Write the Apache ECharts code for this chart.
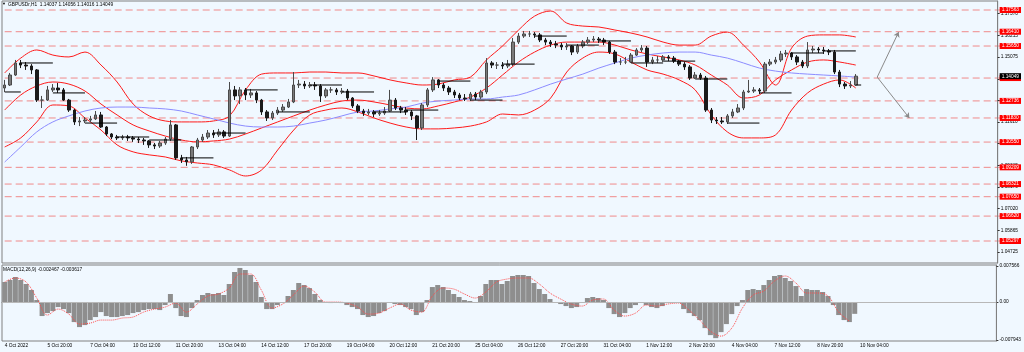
<!DOCTYPE html>
<html>
<head>
<meta charset="utf-8">
<script src="https://cdn.jsdelivr.net/npm/echarts@6/dist/echarts.min.js"></script>
<style>
  html, body { margin: 0; padding: 0; background: #f0f8ff; }
  #chart { width: 1024px; height: 352px; }
</style>
</head>
<body>
<div id="chart"></div>
<script>
// GBPUSDr H1, 4 Oct - 10 Nov 2022 (one candle here = 4 hours)
var firstOpen = 1.1342;
var closes = [
  1.1358, 1.1411, 1.1475, 1.1464, 1.1459, 1.1438, 1.1278, 1.1278, 1.1332, 1.1342,
  1.1332, 1.1278, 1.1225, 1.1162, 1.1167, 1.1172, 1.1178, 1.1199, 1.1135, 1.1098,
  1.1082, 1.1077, 1.1082, 1.1077, 1.1071, 1.1066, 1.1061, 1.1040, 1.1034, 1.1050,
  1.1071, 1.1146, 1.0971, 1.0960, 1.0950, 1.1029, 1.1066, 1.1082, 1.1103, 1.1093,
  1.1109, 1.1087, 1.1332, 1.1300, 1.1332, 1.1305, 1.1316, 1.1278, 1.1215, 1.1183,
  1.1209, 1.1225, 1.1241, 1.1268, 1.1358, 1.1363, 1.1353, 1.1358, 1.1353, 1.1300,
  1.1332, 1.1332, 1.1321, 1.1326, 1.1289, 1.1247, 1.1220, 1.1209, 1.1215, 1.1204,
  1.1209, 1.1220, 1.1278, 1.1236, 1.1225, 1.1215, 1.1194, 1.1130, 1.1252, 1.1332,
  1.1385, 1.1358, 1.1342, 1.1321, 1.1305, 1.1289, 1.1284, 1.1310, 1.1294, 1.1321,
  1.1475, 1.1464, 1.1464, 1.1459, 1.1469, 1.1586, 1.1618, 1.1629, 1.1629, 1.1624,
  1.1597, 1.1586, 1.1576, 1.1570, 1.1560, 1.1565, 1.1533, 1.1565, 1.1586, 1.1597,
  1.1602, 1.1597, 1.1586, 1.1533, 1.1480, 1.1480, 1.1480, 1.1517, 1.1544, 1.1554,
  1.1480, 1.1491, 1.1491, 1.1507, 1.1501, 1.1485, 1.1469, 1.1454, 1.1395, 1.1411,
  1.1395, 1.1225, 1.1172, 1.1167, 1.1162, 1.1194, 1.1215, 1.1236, 1.1321, 1.1326,
  1.1332, 1.1326, 1.1469, 1.1480, 1.1491, 1.1523, 1.1528, 1.1507, 1.1480, 1.1459,
  1.1544, 1.1549, 1.1544, 1.1539, 1.1533, 1.1427, 1.1363, 1.1353, 1.1358, 1.1405
];
var highs = [
  1.1385, 1.1422, 1.1491, 1.1491, 1.1480, 1.1469, 1.1443, 1.1300, 1.1353, 1.1363,
  1.1369, 1.1342, 1.1284, 1.1231, 1.1188, 1.1188, 1.1194, 1.1220, 1.1215, 1.1140,
  1.1103, 1.1093, 1.1093, 1.1093, 1.1087, 1.1082, 1.1077, 1.1066, 1.1050, 1.1061,
  1.1082, 1.1172, 1.1151, 1.0987, 1.0976, 1.1034, 1.1077, 1.1098, 1.1119, 1.1119,
  1.1125, 1.1119, 1.1374, 1.1353, 1.1347, 1.1342, 1.1337, 1.1326, 1.1284, 1.1225,
  1.1220, 1.1241, 1.1257, 1.1284, 1.1427, 1.1385, 1.1379, 1.1374, 1.1374, 1.1363,
  1.1342, 1.1347, 1.1342, 1.1342, 1.1337, 1.1294, 1.1257, 1.1231, 1.1231, 1.1225,
  1.1225, 1.1241, 1.1332, 1.1289, 1.1247, 1.1241, 1.1225, 1.1199, 1.1262, 1.1342,
  1.1400, 1.1390, 1.1369, 1.1353, 1.1332, 1.1316, 1.1310, 1.1321, 1.1321, 1.1332,
  1.1501, 1.1485, 1.1480, 1.1480, 1.1491, 1.1608, 1.1634, 1.1645, 1.1645, 1.1639,
  1.1634, 1.1608, 1.1597, 1.1592, 1.1581, 1.1581, 1.1570, 1.1576, 1.1597, 1.1613,
  1.1618, 1.1613, 1.1608, 1.1592, 1.1544, 1.1501, 1.1507, 1.1528, 1.1554, 1.1570,
  1.1565, 1.1507, 1.1512, 1.1517, 1.1517, 1.1512, 1.1491, 1.1480, 1.1464, 1.1427,
  1.1422, 1.1406, 1.1236, 1.1188, 1.1188, 1.1204, 1.1231, 1.1257, 1.1332, 1.1385,
  1.1347, 1.1342, 1.1480, 1.1496, 1.1507, 1.1539, 1.1544, 1.1533, 1.1517, 1.1491,
  1.1586, 1.1565, 1.1560, 1.1560, 1.1549, 1.1544, 1.1438, 1.1374, 1.1379, 1.1416
];
var lows = [
  1.1321, 1.1353, 1.1406, 1.1448, 1.1438, 1.1416, 1.1268, 1.1236, 1.1273, 1.1321,
  1.1316, 1.1273, 1.1215, 1.1146, 1.1140, 1.1156, 1.1162, 1.1172, 1.1130, 1.1087,
  1.1071, 1.1066, 1.1066, 1.1061, 1.1056, 1.1050, 1.1040, 1.1024, 1.1018, 1.1024,
  1.1040, 1.1061, 1.0960, 1.0944, 1.0929, 1.0939, 1.1018, 1.1056, 1.1071, 1.1077,
  1.1082, 1.1077, 1.1082, 1.1278, 1.1257, 1.1278, 1.1289, 1.1262, 1.1199, 1.1167,
  1.1172, 1.1199, 1.1215, 1.1236, 1.1262, 1.1342, 1.1337, 1.1342, 1.1332, 1.1268,
  1.1289, 1.1316, 1.1305, 1.1310, 1.1278, 1.1236, 1.1209, 1.1194, 1.1199, 1.1188,
  1.1194, 1.1199, 1.1215, 1.1225, 1.1209, 1.1199, 1.1172, 1.1066, 1.1119, 1.1241,
  1.1321, 1.1342, 1.1326, 1.1305, 1.1289, 1.1278, 1.1273, 1.1273, 1.1278, 1.1284,
  1.1310, 1.1448, 1.1443, 1.1443, 1.1448, 1.1459, 1.1576, 1.1608, 1.1613, 1.1608,
  1.1586, 1.1570, 1.1560, 1.1554, 1.1544, 1.1544, 1.1517, 1.1523, 1.1554, 1.1576,
  1.1586, 1.1581, 1.1570, 1.1523, 1.1469, 1.1464, 1.1469, 1.1475, 1.1512, 1.1533,
  1.1454, 1.1469, 1.1475, 1.1480, 1.1485, 1.1475, 1.1459, 1.1438, 1.1385, 1.1390,
  1.1385, 1.1215, 1.1156, 1.1151, 1.1151, 1.1151, 1.1183, 1.1209, 1.1225, 1.1316,
  1.1316, 1.1310, 1.1316, 1.1459, 1.1469, 1.1480, 1.1507, 1.1491, 1.1464, 1.1448,
  1.1448, 1.1528, 1.1528, 1.1523, 1.1517, 1.1416, 1.1347, 1.1337, 1.1342, 1.1353
];
// daily open level, one per trading day (4 Oct .. 10 Nov)
var dailyOpen = [
  1.1321, 1.1475, 1.1316, 1.1156, 1.1082, 1.1066, 1.0971, 1.1103, 1.1332, 1.1215,
  1.1358, 1.1321, 1.1215, 1.1225, 1.1379, 1.1278, 1.1469, 1.1618, 1.1570, 1.1592,
  1.1475, 1.1485, 1.1390, 1.1156, 1.1316, 1.1528, 1.1539, 1.1358
];

// indicator lines, one sample every 3 candles
var bandStep = 3;
var bbUpper = [
  1.1422, 1.1501, 1.1544, 1.1517, 1.1507, 1.1533, 1.1464, 1.1374, 1.1257, 1.1194,
  1.1167, 1.1162, 1.1162, 1.1167, 1.1194, 1.1332, 1.1416, 1.1422, 1.1422, 1.1427,
  1.1427, 1.1422, 1.1422, 1.1406, 1.1385, 1.1369, 1.1358, 1.1363, 1.1385, 1.1400,
  1.1491, 1.1565, 1.1650, 1.1724, 1.1751, 1.1687, 1.1671, 1.1666, 1.1650, 1.1634,
  1.1613, 1.1586, 1.1570, 1.1570, 1.1618, 1.1639, 1.1570, 1.1480, 1.1358, 1.1554,
  1.1618, 1.1624, 1.1624, 1.1613
];
var bbMiddle = [
  1.1225, 1.1305, 1.1353, 1.1374, 1.1363, 1.1326, 1.1257, 1.1199, 1.1146, 1.1114,
  1.1087, 1.1066, 1.1056, 1.1061, 1.1071, 1.1098, 1.1130, 1.1162, 1.1194, 1.1225,
  1.1252, 1.1273, 1.1278, 1.1268, 1.1252, 1.1236, 1.1231, 1.1247, 1.1268, 1.1294,
  1.1342, 1.1411, 1.1480, 1.1533, 1.1570, 1.1586, 1.1586, 1.1586, 1.1570, 1.1544,
  1.1523, 1.1507, 1.1491, 1.1464, 1.1411, 1.1358, 1.1289, 1.1305, 1.1385, 1.1438,
  1.1480, 1.1491, 1.1480, 1.1464
];
var bbLower = [
  1.1029, 1.1077, 1.1162, 1.1252, 1.1247, 1.1183, 1.1119, 1.1040, 1.1003, 1.0987,
  1.0976, 1.0955, 1.0944, 1.0934, 1.0907, 1.0875, 1.0907, 1.1013, 1.1119, 1.1199,
  1.1225, 1.1236, 1.1215, 1.1183, 1.1156, 1.1135, 1.1125, 1.1125, 1.1130, 1.1140,
  1.1162, 1.1204, 1.1199, 1.1225, 1.1289, 1.1427, 1.1501, 1.1533, 1.1523, 1.1480,
  1.1438, 1.1416, 1.1385, 1.1332, 1.1199, 1.1109, 1.1077, 1.1077, 1.1093, 1.1225,
  1.1316, 1.1363, 1.1385, 1.1342
];
var maLine = [
  1.0949, 1.1029, 1.1109, 1.1162, 1.1194, 1.1220, 1.1236, 1.1241, 1.1241, 1.1236,
  1.1231, 1.1220, 1.1199, 1.1178, 1.1156, 1.1140, 1.1135, 1.1135, 1.1140, 1.1156,
  1.1172, 1.1194, 1.1215, 1.1220, 1.1231, 1.1241, 1.1262, 1.1273, 1.1278, 1.1284,
  1.1284, 1.1294, 1.1305, 1.1332, 1.1363, 1.1390, 1.1416, 1.1448, 1.1475, 1.1501,
  1.1517, 1.1528, 1.1533, 1.1533, 1.1517, 1.1501, 1.1475, 1.1448, 1.1432, 1.1422,
  1.1416, 1.1411, 1.1406, 1.1400
];

// MACD(12,26,9): main per candle, signal every 2 candles
var macdMain = [
  0.00419, 0.00461, 0.00524, 0.00461, 0.00377, 0.00252, 0.00042, -0.00293, -0.00231, -0.00189,
  -0.00105, -0.00147, -0.00231, -0.00419, -0.00524, -0.00482, -0.00377, -0.00314, -0.00210, -0.00293,
  -0.00314, -0.00314, -0.00293, -0.00272, -0.00231, -0.00210, -0.00168, -0.00147, -0.00147, -0.00168,
  -0.00063, 0.00168, -0.00126, -0.00293, -0.00314, -0.00126, 0.00042, 0.00147, 0.00189, 0.00168,
  0.00189, 0.00147, 0.00377, 0.00629, 0.00713, 0.00671, 0.00566, 0.00419, 0.00105, -0.00147,
  -0.00147, -0.00063, 0, 0.00126, 0.00252, 0.00398, 0.00356, 0.00293, 0.00168, 0.00042,
  0, -0.00021, 0, -0.00021, -0.00063, -0.00105, -0.00147, -0.00272, -0.00314, -0.00293,
  -0.00231, -0.00189, 0, -0.00042, -0.00063, -0.00105, -0.00147, -0.00272, -0.00210, 0.00042,
  0.00314, 0.00356, 0.00314, 0.00252, 0.00168, 0.00105, 0.00042, 0.00021, 0, 0.00126,
  0.00377, 0.00461, 0.00461, 0.00377, 0.00440, 0.00545, 0.00566, 0.00566, 0.00545, 0.00398,
  0.00272, 0.00168, 0.00063, 0, -0.00042, -0.00084, -0.00126, -0.00105, 0, 0.00084,
  0.00105, 0.00084, 0.00042, -0.00126, -0.00252, -0.00314, -0.00231, -0.00126, -0.00063, 0,
  -0.00063, -0.00105, -0.00126, -0.00084, -0.00021, 0, 0, -0.00147, -0.00231, -0.00293,
  -0.00377, -0.00545, -0.00692, -0.00755, -0.00629, -0.00461, -0.00252, -0.00084, 0.00042, 0.00252,
  0.00272, 0.00252, 0.00356, 0.00461, 0.00545, 0.00566, 0.00503, 0.00440, 0.00335, 0.00126,
  0.00272, 0.00252, 0.00252, 0.00210, 0.00126, -0.00063, -0.00272, -0.00377, -0.00419, -0.00247
];
var signalStep = 2;
var macdSignal = [
  0.00419, 0.00503, 0.00419, 0.00084, -0.00272, -0.00147, -0.00252, -0.00461, -0.00440, -0.00377,
  -0.00377, -0.00335, -0.00314, -0.00210, -0.00147, -0.00105, -0.00021, -0.00210, -0.00042, 0.00126,
  0.00168, 0.00293, 0.00587, 0.00587, 0.00252, -0.00126, -0.00042, 0.00147, 0.00335, 0.00210,
  0, 0, -0.00021, -0.00105, -0.00252, -0.00231, -0.00126, -0.00042, -0.00168, -0.00210,
  0.00126, 0.00293, 0.00272, 0.00168, 0.00084, 0.00210, 0.00419, 0.00482, 0.00503, 0.00503,
  0.00377, 0.00189, 0.00063, -0.00042, -0.00084, 0.00042, 0.00063, -0.00168, -0.00293, -0.00231,
  -0.00063, -0.00084, -0.00042, -0.00021, -0.00168, -0.00377, -0.00608, -0.00713, -0.00545, -0.00126,
  0.00147, 0.00231, 0.00440, 0.00545, 0.00398, 0.00189, 0.00189, 0.00126, -0.00210, -0.00398
];

// horizontal levels drawn on the chart
var levels = [1.17563, 1.16410, 1.15650, 1.13950, 1.12736, 1.11830, 1.10550, 1.09209, 1.08321, 1.07650, 1.06620, 1.05297];
var lastPrice = 1.14049;
var priceTicks = [1.04725, 1.05865, 1.07020, 1.08170, 1.09315, 1.10465, 1.11610, 1.12760, 1.13910, 1.15075, 1.16215, 1.17370];
var macdTicks = [-0.007943, 0, 0.007566];
var macdTickLabels = ['-0.007943', '0.00', '0.007566'];
var xTickLabels = ['4 Oct 2022', '5 Oct 20:00', '7 Oct 04:00', '10 Oct 12:00', '11 Oct 20:00', '13 Oct 04:00',
  '14 Oct 12:00', '17 Oct 20:00', '19 Oct 04:00', '20 Oct 12:00', '21 Oct 20:00', '25 Oct 04:00', '26 Oct 12:00',
  '27 Oct 20:00', '31 Oct 04:00', '1 Nov 12:00', '2 Nov 20:00', '4 Nov 04:00', '7 Nov 12:00', '8 Nov 20:00', '10 Nov 04:00'];
// projection arrows [candle index, price]
var projStart = [163, 1.1400];
var projUp = [166.5, 1.1639];
var projDown = [169, 1.1183];

var slotCount = 186;
var priceMin = 1.04129, priceMax = 1.18041;
var macdMin = -0.00815, macdMax = 0.00775;

var slots = [];
for (var i = 0; i < slotCount; i++) slots.push(String(i));

var candles = closes.map(function (c, i) {
  var o = i === 0 ? firstOpen : closes[i - 1];
  return [o, c, Math.min(lows[i], o, c), Math.max(highs[i], o, c)];
});

function sampled(arr, step) {
  return arr.map(function (v, k) { return [k * step, v]; });
}

var font = 'Liberation Sans';
var fs = 4.8;

var chart = echarts.init(document.getElementById('chart'));

var bandLine = function (name, arr, color) {
  return {
    name: name, type: 'line', xAxisIndex: 0, yAxisIndex: 0,
    data: sampled(arr, bandStep), smooth: 0.35, symbol: 'none', silent: true,
    lineStyle: { color: color, width: 1 }, z: 3
  };
};

var option = {
  animation: false,
  backgroundColor: '#f0f8ff',
  textStyle: { fontFamily: font },
  grid: [
    { left: 2, right: 25, top: 1, height: 262, show: true, borderColor: '#808080', borderWidth: 1 },
    { left: 2, right: 25, top: 265, height: 76, show: true, borderColor: '#808080', borderWidth: 1 }
  ],
  xAxis: [
    {
      type: 'category', gridIndex: 0, data: slots, boundaryGap: true,
      axisLine: { show: false }, axisTick: { show: false }, axisLabel: { show: false }
    },
    {
      type: 'category', gridIndex: 1, data: slots, boundaryGap: true,
      axisLine: { lineStyle: { color: '#808080' } },
      axisTick: { interval: 7, length: 2, lineStyle: { color: '#333' } },
      axisLabel: {
        interval: 7, align: 'left', margin: 2, fontSize: fs, color: '#000', fontFamily: font,
        formatter: function (v, idx) { return xTickLabels[idx / 8] || ''; }
      }
    }
  ],
  yAxis: [
    {
      type: 'value', gridIndex: 0, position: 'right', min: priceMin, max: priceMax, z: 5,
      axisLine: { show: true, lineStyle: { color: '#808080' } },
      axisTick: { show: true, length: 2, customValues: priceTicks, lineStyle: { color: '#333' } },
      axisLabel: {
        customValues: priceTicks, margin: 3, fontSize: fs, color: '#000', fontFamily: font,
        formatter: function (v) { return v.toFixed(5); }
      },
      splitLine: { show: false }
    },
    {
      type: 'value', gridIndex: 0, position: 'right', min: priceMin, max: priceMax, z: 6,
      axisLine: { show: false }, axisTick: { show: false }, splitLine: { show: false },
      axisLabel: {
        customValues: levels, margin: 2, fontSize: fs, color: '#ffffff', fontFamily: font,
        backgroundColor: '#ff0000', padding: [1, 2, 0, 2],
        formatter: function (v) { return v.toFixed(5); }
      }
    },
    {
      type: 'value', gridIndex: 0, position: 'right', min: priceMin, max: priceMax, z: 7,
      axisLine: { show: false }, axisTick: { show: false }, splitLine: { show: false },
      axisLabel: {
        customValues: [lastPrice], margin: 2, fontSize: fs, color: '#ffffff', fontFamily: font,
        backgroundColor: '#000000', padding: [1, 2, 0, 2],
        formatter: function (v) { return v.toFixed(5); }
      }
    },
    {
      type: 'value', gridIndex: 1, position: 'right', min: macdMin, max: macdMax,
      axisLine: { show: true, lineStyle: { color: '#808080' } },
      axisTick: { show: true, length: 2, customValues: macdTicks, lineStyle: { color: '#333' } },
      axisLabel: {
        customValues: macdTicks, margin: 3, fontSize: fs, color: '#000', fontFamily: font,
        formatter: function (v) {
          for (var k = 0; k < macdTicks.length; k++) {
            if (Math.abs(v - macdTicks[k]) < 1e-9) return macdTickLabels[k];
          }
          return '';
        }
      },
      splitLine: { show: false }
    }
  ],
  series: [
    {
      // dashed level lines across the whole price panel
      name: 'levels', type: 'custom', xAxisIndex: 0, yAxisIndex: 0, silent: true, z: 1,
      data: levels.map(function (v) { return [0, v]; }),
      renderItem: function (params, api) {
        var v = api.value(1);
        var p1 = api.coord([-0.5, v]);
        var p2 = api.coord([slotCount - 0.5, v]);
        return {
          type: 'line',
          shape: { x1: p1[0], y1: p1[1], x2: p2[0], y2: p2[1] },
          style: { stroke: '#f08a8a', lineWidth: 1, lineDash: [7, 4] }
        };
      }
    },
    {
      name: 'GBPUSDr', type: 'candlestick', xAxisIndex: 0, yAxisIndex: 0,
      data: candles, barWidth: 3, z: 4,
      itemStyle: { color: '#7a7a7a', color0: '#1a1a1a', borderColor: '#4a4a4a', borderColor0: '#1a1a1a', borderWidth: 1 }
    },
    {
      name: 'dailyOpen', type: 'custom', xAxisIndex: 0, yAxisIndex: 0, silent: true, z: 5,
      data: dailyOpen.map(function (v, d) { return [d, v]; }),
      renderItem: function (params, api) {
        var d = api.value(0), lvl = api.value(1);
        var s = Math.max(d * 6 - 3, 0);
        var e = Math.min(d * 6 + 3, closes.length);
        var p1 = api.coord([s - 0.5, lvl]);
        var p2 = api.coord([e - 0.5, lvl]);
        return {
          type: 'line',
          shape: { x1: p1[0], y1: p1[1], x2: p2[0], y2: p2[1] },
          style: { stroke: '#000000', lineWidth: 1 }
        };
      }
    },
    bandLine('BB upper', bbUpper, '#ff1a1a'),
    bandLine('BB middle', bbMiddle, '#ff1a1a'),
    bandLine('BB lower', bbLower, '#ff1a1a'),
    {
      name: 'MA', type: 'line', xAxisIndex: 0, yAxisIndex: 0,
      data: sampled(maLine, bandStep), smooth: 0.35, symbol: 'none', silent: true,
      lineStyle: { color: '#8c8cff', width: 1 }, z: 3,
      markLine: {
        silent: true, symbol: ['none', 'arrow'], symbolSize: 5, label: { show: false },
        lineStyle: { color: '#8a8a8a', type: 'solid', width: 1 },
        data: [
          [{ coord: projStart }, { coord: projUp }],
          [{ coord: projStart }, { coord: projDown }]
        ]
      }
    },
    {
      name: 'MACD', type: 'bar', xAxisIndex: 1, yAxisIndex: 3,
      data: macdMain, barWidth: 5, silent: true,
      itemStyle: { color: '#8e8e8e' },
      markLine: {
        silent: true, symbol: 'none', label: { show: false },
        lineStyle: { color: '#b8b8b8', type: 'solid', width: 1 },
        data: [{ yAxis: 0 }]
      }
    },
    {
      name: 'Signal', type: 'line', xAxisIndex: 1, yAxisIndex: 3,
      data: sampled(macdSignal, signalStep), smooth: 0.35, symbol: 'none', silent: true,
      lineStyle: { color: '#ff4a4a', width: 1, type: 'dotted' }, z: 4
    }
  ],
  graphic: [
    { type: 'text', left: 2, top: 2, style: { text: '\u25BC', fontSize: 4, fill: '#000', fontFamily: font } },
    { type: 'text', left: 8, top: 2, style: { text: 'GBPUSDr,H1  1.14037 1.14056 1.14016 1.14049', fontSize: fs, fill: '#000', fontFamily: font } },
    { type: 'text', left: 3, top: 267, style: { text: 'MACD(12,26,9) -0.002467 -0.003617', fontSize: fs, fill: '#000', fontFamily: font } }
  ]
};

chart.setOption(option);
</script>
</body>
</html>
